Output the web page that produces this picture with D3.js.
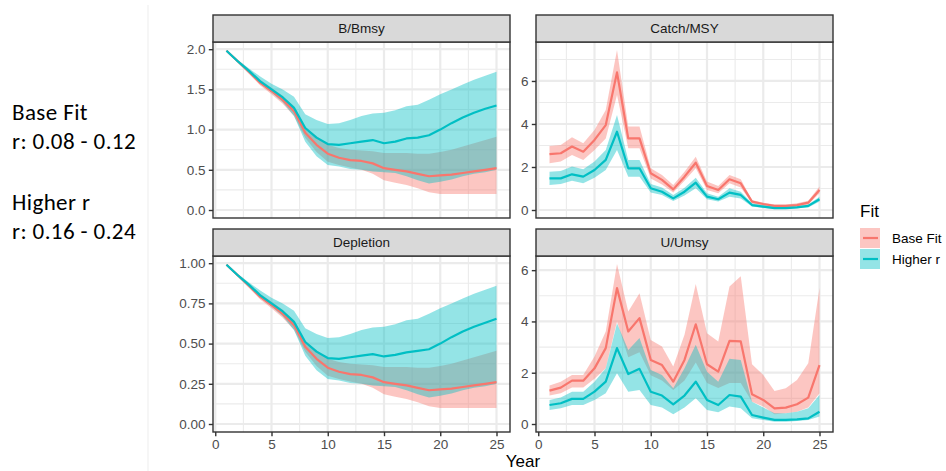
<!DOCTYPE html>
<html>
<head>
<meta charset="utf-8">
<script src="https://cdn.jsdelivr.net/npm/d3@7"></script>
<style>
  body { margin: 0; background: #fff; }
  svg { display: block; }
  text { font-family: "Liberation Sans", Arial, Helvetica, sans-serif; }
  .note { font-family: Calibri, Carlito, "Open Sans", sans-serif; }
</style>
</head>
<body>
<svg id="chart" width="946" height="471"></svg>
<script>
// ---- data ----
const years = [1,2,3,4,5,6,7,8,9,10,11,12,13,14,15,16,17,18,19,20,21,22,23,24,25];
const fits = ["Base Fit", "Higher r"];
const metrics = ["B/Bmsy", "Catch/MSY", "Depletion", "U/Umsy"];

// B/Bmsy
const bBase   = [1.98,1.85,1.72,1.58,1.48,1.37,1.23,0.96,0.81,0.70,0.65,0.62,0.61,0.58,0.52,0.50,0.48,0.45,0.42,0.43,0.44,0.46,0.48,0.50,0.52];
const bBaseLo = [1.97,1.83,1.69,1.55,1.44,1.32,1.17,0.90,0.72,0.60,0.56,0.53,0.50,0.45,0.37,0.34,0.31,0.27,0.22,0.20,0.20,0.20,0.20,0.20,0.20];
const bBaseHi = [1.99,1.87,1.75,1.62,1.52,1.42,1.29,1.03,0.92,0.81,0.77,0.75,0.74,0.73,0.71,0.71,0.71,0.70,0.70,0.72,0.75,0.79,0.83,0.87,0.91];
const bHigh   = [1.98,1.85,1.73,1.60,1.50,1.40,1.27,1.02,0.90,0.82,0.81,0.83,0.85,0.87,0.83,0.85,0.89,0.90,0.93,1.00,1.08,1.15,1.21,1.26,1.30];
const bHighLo = [1.97,1.83,1.70,1.57,1.46,1.34,1.17,0.85,0.67,0.56,0.54,0.51,0.50,0.48,0.47,0.46,0.42,0.37,0.33,0.35,0.38,0.42,0.45,0.47,0.50];
const bHighHi = [1.99,1.87,1.76,1.66,1.57,1.50,1.41,1.19,1.12,1.07,1.08,1.12,1.17,1.20,1.21,1.24,1.29,1.31,1.37,1.44,1.50,1.56,1.62,1.67,1.72];

// Catch/MSY
const cBase   = [2.60,2.64,2.95,2.71,3.26,3.95,6.40,3.33,3.33,1.71,1.40,0.96,1.55,2.20,1.12,0.93,1.43,1.24,0.39,0.28,0.19,0.19,0.23,0.34,0.93];
const cBaseLo = [2.17,2.25,2.56,2.33,2.79,3.33,5.35,2.87,2.87,1.47,1.19,0.81,1.36,1.94,0.93,0.78,1.24,1.05,0.31,0.20,0.12,0.12,0.16,0.26,0.78];
const cBaseHi = [2.98,3.02,3.38,3.10,3.72,4.65,7.44,3.88,3.88,1.94,1.63,1.16,1.78,2.48,1.32,1.12,1.63,1.43,0.47,0.34,0.26,0.26,0.31,0.43,1.09];
const cHigh   = [1.47,1.47,1.66,1.55,1.86,2.33,3.64,1.94,1.94,1.01,0.85,0.54,0.85,1.27,0.62,0.50,0.81,0.70,0.23,0.16,0.09,0.09,0.12,0.19,0.50];
const cHighLo = [1.16,1.21,1.36,1.24,1.50,1.86,2.79,1.55,1.55,0.81,0.70,0.42,0.68,1.01,0.50,0.39,0.62,0.54,0.16,0.09,0.05,0.05,0.08,0.12,0.39];
const cHighHi = [1.78,1.81,2.02,1.89,2.25,2.79,4.42,2.33,2.33,1.21,1.05,0.70,1.04,1.50,0.78,0.62,1.01,0.85,0.31,0.22,0.16,0.16,0.19,0.26,0.62];

// Depletion
const dBase   = [0.99,0.925,0.86,0.79,0.74,0.685,0.615,0.48,0.405,0.35,0.325,0.31,0.305,0.29,0.26,0.25,0.24,0.225,0.21,0.215,0.22,0.23,0.24,0.25,0.26];
const dBaseLo = [0.985,0.915,0.845,0.775,0.72,0.66,0.585,0.45,0.36,0.30,0.28,0.265,0.25,0.225,0.185,0.17,0.155,0.135,0.11,0.10,0.10,0.10,0.10,0.10,0.10];
const dBaseHi = [0.995,0.935,0.875,0.81,0.76,0.71,0.645,0.515,0.46,0.405,0.385,0.375,0.37,0.365,0.355,0.355,0.355,0.35,0.35,0.36,0.375,0.395,0.415,0.435,0.455];
const dHigh   = [0.99,0.925,0.865,0.80,0.75,0.70,0.635,0.51,0.45,0.41,0.405,0.415,0.425,0.435,0.42,0.43,0.445,0.455,0.465,0.50,0.54,0.575,0.605,0.63,0.655];
const dHighLo = [0.985,0.915,0.85,0.785,0.73,0.67,0.585,0.425,0.335,0.28,0.27,0.255,0.25,0.24,0.235,0.23,0.21,0.185,0.165,0.175,0.19,0.21,0.225,0.235,0.25];
const dHighHi = [0.995,0.935,0.88,0.83,0.785,0.75,0.705,0.595,0.56,0.535,0.54,0.56,0.585,0.60,0.605,0.62,0.645,0.655,0.685,0.72,0.75,0.78,0.81,0.835,0.86];

// U/Umsy
const uBase   = [1.30,1.42,1.69,1.69,2.17,2.96,5.30,3.61,4.13,2.50,2.30,1.65,2.50,3.89,2.33,2.04,3.24,3.22,1.16,0.94,0.61,0.64,0.77,1.03,2.30];
const uBaseLo = [1.11,1.20,1.42,1.42,1.76,2.17,4.00,2.60,2.80,1.90,1.70,1.33,1.70,2.40,1.60,1.40,1.60,1.60,0.87,0.68,0.38,0.42,0.48,0.64,1.20];
const uBaseHi = [1.50,1.65,1.91,1.91,2.63,3.61,6.24,4.39,5.10,3.28,3.02,2.24,3.48,5.46,3.54,3.22,5.36,5.76,2.33,1.91,1.29,1.39,1.72,2.37,5.30];
const uHigh   = [0.74,0.81,0.98,0.98,1.26,1.65,2.96,1.95,2.15,1.26,1.11,0.77,1.11,1.65,0.94,0.74,1.13,1.07,0.35,0.25,0.16,0.16,0.18,0.22,0.48];
const uHighLo = [0.55,0.61,0.74,0.74,0.94,1.20,1.98,1.26,1.33,0.74,0.64,0.38,0.64,1.00,0.55,0.46,0.68,0.61,0.22,0.16,0.09,0.09,0.12,0.16,0.29];
const uHighHi = [0.94,1.03,1.26,1.26,1.65,2.17,3.93,2.89,3.35,2.11,1.91,1.39,2.17,3.09,2.04,1.65,2.54,2.50,0.87,0.64,0.42,0.42,0.48,0.61,1.13];

// axis ticks
const xTicks = [0, 5, 10, 15, 20, 25];
const bTicks = [0, 0.5, 1, 1.5, 2];
const dTicks = [0, 0.25, 0.5, 0.75, 1];
const cTicks = [0, 2, 4, 6];
const uTicks = [0, 2, 4, 6];

const noteLines = ["Base Fit", "r: 0.08 - 0.12", "Higher r", "r: 0.16 - 0.24"];

// ---- styling / layout ----
const colors = { "Base Fit": "#F8766D", "Higher r": "#00BFC4" };
const ribbonAlpha = 0.42;
const colX = [213, 536];
const panelW = 297;
const rowY = [42, 256];
const panelH = 176;
const stripH = 27;
const tickLen = 4.2;
const fontSmall = 13.5;
const fontTitle = 17;

const svg = d3.select("#chart");

const panels = [
  { name: "B/Bmsy",    col: 0, row: 0, ticks: bTicks, fmt: d3.format(".1f"),
    series: [[bBase, bBaseLo, bBaseHi], [bHigh, bHighLo, bHighHi]] },
  { name: "Catch/MSY", col: 1, row: 0, ticks: cTicks, fmt: d3.format("d"),
    series: [[cBase, cBaseLo, cBaseHi], [cHigh, cHighLo, cHighHi]] },
  { name: "Depletion", col: 0, row: 1, ticks: dTicks, fmt: d3.format(".2f"),
    series: [[dBase, dBaseLo, dBaseHi], [dHigh, dHighLo, dHighHi]] },
  { name: "U/Umsy",    col: 1, row: 1, ticks: uTicks, fmt: d3.format("d"),
    series: [[uBase, uBaseLo, uBaseHi], [uHigh, uHighLo, uHighHi]] }
];

// continuous scale expansion of 5% on each side
function expand(lo, hi) {
  const e = (hi - lo) * 0.05;
  return [lo - e, hi + e];
}
function minorBreaks(majors, domain) {
  const step = majors[1] - majors[0];
  const ext = [majors[0] - step, ...majors, majors[majors.length - 1] + step];
  const out = [];
  for (let i = 0; i < ext.length - 1; i++) {
    const m = (ext[i] + ext[i + 1]) / 2;
    if (m > domain[0] && m < domain[1]) out.push(m);
  }
  return out;
}

// separator line at the left of the plot image
svg.append("line")
  .attr("x1", 148).attr("x2", 148).attr("y1", 5).attr("y2", 471)
  .attr("stroke", "#ededed").attr("stroke-width", 1);

const xDomain = expand(d3.min(years), d3.max(years));

panels.forEach(p => {
  const x0 = colX[p.col], y0 = rowY[p.row];
  const x = d3.scaleLinear().domain(xDomain).range([x0, x0 + panelW]);
  const allVals = p.series.flat(2);
  const yDomain = expand(0, d3.max(allVals));
  const y = d3.scaleLinear().domain(yDomain).range([y0 + panelH, y0]);

  const g = svg.append("g");

  // panel background
  g.append("rect").attr("x", x0).attr("y", y0).attr("width", panelW).attr("height", panelH)
    .attr("fill", "#fff");

  // grid: minor then major
  const xMinor = minorBreaks(xTicks, xDomain);
  const yMinor = minorBreaks(p.ticks, yDomain);
  g.selectAll(null).data(xMinor).join("line")
    .attr("x1", d => x(d)).attr("x2", d => x(d)).attr("y1", y0).attr("y2", y0 + panelH)
    .attr("stroke", "#EBEBEB").attr("stroke-width", 1.1);
  g.selectAll(null).data(yMinor).join("line")
    .attr("y1", d => y(d)).attr("y2", d => y(d)).attr("x1", x0).attr("x2", x0 + panelW)
    .attr("stroke", "#EBEBEB").attr("stroke-width", 1.1);
  g.selectAll(null).data(xTicks).join("line")
    .attr("x1", d => x(d)).attr("x2", d => x(d)).attr("y1", y0).attr("y2", y0 + panelH)
    .attr("stroke", "#EBEBEB").attr("stroke-width", 2.2);
  g.selectAll(null).data(p.ticks).join("line")
    .attr("y1", d => y(d)).attr("y2", d => y(d)).attr("x1", x0).attr("x2", x0 + panelW)
    .attr("stroke", "#EBEBEB").attr("stroke-width", 2.2);

  const clipId = "clip-" + p.col + "-" + p.row;
  svg.append("clipPath").attr("id", clipId).append("rect")
    .attr("x", x0).attr("y", y0).attr("width", panelW).attr("height", panelH);
  const plot = g.append("g").attr("clip-path", `url(#${clipId})`);

  const rows = p.series.map(([mid, lo, hi]) =>
    years.map((yr, i) => ({ year: yr, mid: mid[i], lo: lo[i], hi: hi[i] })));

  const area = d3.area().x(d => x(d.year)).y0(d => y(d.lo)).y1(d => y(d.hi));
  const line = d3.line().x(d => x(d.year)).y(d => y(d.mid));

  rows.forEach((r, k) => {
    plot.append("path").datum(r).attr("d", area)
      .attr("fill", colors[fits[k]]).attr("fill-opacity", ribbonAlpha).attr("stroke", "none");
  });
  rows.forEach((r, k) => {
    plot.append("path").datum(r).attr("d", line)
      .attr("fill", "none").attr("stroke", colors[fits[k]]).attr("stroke-width", 2.2)
      .attr("stroke-linejoin", "round");
  });

  // panel border
  g.append("rect").attr("x", x0).attr("y", y0).attr("width", panelW).attr("height", panelH)
    .attr("fill", "none").attr("stroke", "#333333").attr("stroke-width", 1.4);

  // strip
  g.append("rect").attr("x", x0).attr("y", y0 - stripH).attr("width", panelW).attr("height", stripH)
    .attr("fill", "#D9D9D9").attr("stroke", "#333333").attr("stroke-width", 1.4);
  g.append("text").attr("x", x0 + panelW / 2).attr("y", y0 - stripH / 2)
    .attr("text-anchor", "middle").attr("dominant-baseline", "central")
    .attr("font-size", fontSmall).attr("fill", "#1A1A1A").text(p.name);

  // y axis
  const ya = g.append("g").attr("transform", `translate(${x0},0)`)
    .call(d3.axisLeft(y).tickValues(p.ticks).tickFormat(p.fmt).tickSize(tickLen).tickPadding(3.4));
  ya.select(".domain").remove();
  ya.selectAll(".tick line").attr("stroke", "#333333").attr("stroke-width", 1.4);
  ya.selectAll(".tick text").attr("font-size", fontSmall).attr("fill", "#4D4D4D")
    .attr("font-family", "Liberation Sans, Arial, sans-serif");

  // x axis on the bottom row only
  if (p.row === 1) {
    const xa = g.append("g").attr("transform", `translate(0,${y0 + panelH})`)
      .call(d3.axisBottom(x).tickValues(xTicks).tickFormat(d3.format("d")).tickSize(tickLen).tickPadding(3.4));
    xa.select(".domain").remove();
    xa.selectAll(".tick line").attr("stroke", "#333333").attr("stroke-width", 1.4);
    xa.selectAll(".tick text").attr("font-size", fontSmall).attr("fill", "#4D4D4D")
      .attr("font-family", "Liberation Sans, Arial, sans-serif");
  }
});

// x axis title
svg.append("text").attr("x", (colX[0] + colX[1] + panelW) / 2).attr("y", 467)
  .attr("text-anchor", "middle").attr("font-size", fontTitle).attr("fill", "#000").text("Year");

// legend
const lg = svg.append("g").attr("transform", "translate(860,0)");
lg.append("text").attr("x", 0).attr("y", 217).attr("font-size", fontTitle).attr("fill", "#000").text("Fit");
fits.forEach((f, i) => {
  const ky = 228 + i * 21;
  lg.append("rect").attr("x", 0).attr("y", ky).attr("width", 20).attr("height", 20)
    .attr("fill", colors[f]).attr("fill-opacity", ribbonAlpha);
  lg.append("line").attr("x1", 3).attr("x2", 18).attr("y1", ky + 10).attr("y2", ky + 10)
    .attr("stroke", colors[f]).attr("stroke-width", 2.2);
  lg.append("text").attr("x", 32).attr("y", ky + 10).attr("dominant-baseline", "central")
    .attr("font-size", fontSmall).attr("fill", "#000").text(f);
});

// notes on the left
const noteY = [120, 149, 210, 239];
svg.selectAll("text.note").data(noteLines).join("text")
  .attr("class", "note").attr("x", 12).attr("y", (d, i) => noteY[i])
  .attr("font-size", 23).attr("letter-spacing", 0.4).attr("fill", "#000").text(d => d);
</script>
</body>
</html>
